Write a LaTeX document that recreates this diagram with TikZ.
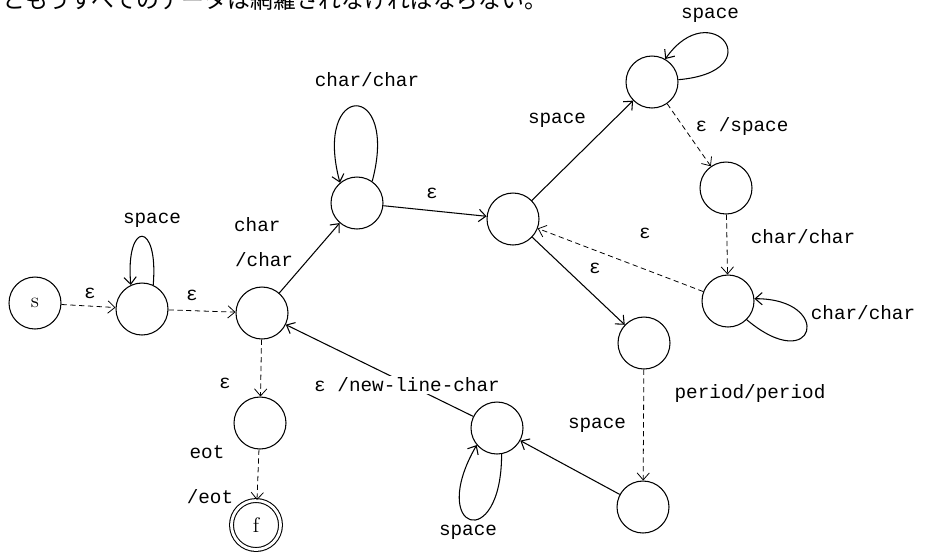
\documentclass[tikz,border=0pt]{standalone}
\usepackage{fontspec}
\setmonofont{Liberation Mono}
\newfontfamily\jpfont{Noto Sans CJK JP}
\usepackage{tikz}
\usetikzlibrary{arrows.meta}
\tikzstyle{state}=[circle,draw,line width=0.6pt,minimum size=1.04cm,inner sep=0pt,font=\large]
\tikzstyle{finalstate}=[state,double,double distance=1.6pt,minimum size=0.98cm]
\tikzstyle{edge} = [draw,line width=0.6pt,-{Straight Barb[length=4pt,width=7pt]}]
\tikzstyle{epsedge} = [edge,line width=0.45pt,densely dashed]
\tikzstyle{edgetext} = [font=\ttfamily\fontsize{11}{13}\selectfont,inner sep=1pt]

\begin{document}
\begin{tikzpicture}[x=0.02cm,y=-0.02cm]

\useasboundingbox (0,0) rectangle (925,556);

% running text above the automaton
\node[anchor=base west,inner sep=0pt,font=\jpfont\fontsize{13}{13}\selectfont] (txt) at (2,8)
   {ともうすべてのデータは網羅されなければならない。};

% states
\node[state] (s) at (35,303) {s};
\foreach \pos/\name in {{(142,309)/n1},{(262,313)/n2},{(357,203)/n3},{(513,219)/hub},
                        {(652,82)/top},{(726,188)/right},{(728,301)/cloop},{(644,343)/period},
                        {(643,507)/bottom},{(497,428)/sloop},{(260,423)/n4}}
    \node[state] (\name) at \pos {};
\node[finalstate] (f) at (256,525) {f};

% Connect states with transitions
\foreach \source/\dest in {n2/n3, n3/hub, hub/top, hub/period, bottom/sloop, sloop/n2}
    \path[edge] (\source) -- (\dest);
\foreach \source/\dest in {s/n1, n1/n2, top/right, right/cloop, cloop/hub, period/bottom, n2/n4, n4/f}
    \path[epsedge] (\source) -- (\dest);

% self loops
\path[edge] (n1.65) .. controls +(85:1.3cm) and +(95:1.3cm) .. (n1.115);
\path[edge] (n3.55) .. controls +(75:2.1cm) and +(105:2.1cm) .. (n3.130);
\path[edge] (top.5) .. controls +(5:1.9cm) and +(55:1.6cm) .. (top.60);
\path[edge] (cloop.-45) .. controls +(-40:1.8cm) and +(0:1.6cm) .. (cloop.5);
\path[edge] (sloop.-80) .. controls +(-90:2cm) and +(240:2cm) .. (sloop.220);

% transition labels
\node[edgetext] (e1) at (90,293) {ε};
\node[edgetext] (e2) at (192,295) {ε};
\node[edgetext] (l1) at (152,220) {space};
\node[edgetext,anchor=west] (l2) at (232,225) {char};
\node[edgetext,anchor=west] (l3) at (233,260) {/char};
\node[edgetext] (l4) at (367,80) {char/char};
\node[edgetext] (e3) at (432,193) {ε};
\node[edgetext] (l5) at (557,120) {space};
\node[edgetext] (l6) at (710,15) {space};
\node[edgetext] (l7) at (742,126) {ε /space};
\node[edgetext] (l8) at (803,237) {char/char};
\node[edgetext] (l9) at (863,313) {char/char};
\node[edgetext] (e4) at (645,233) {ε};
\node[edgetext] (e5) at (595,268) {ε};
\node[edgetext] (l10) at (750,393) {period/period};
\node[edgetext] (l11) at (597,425) {space};
\node[edgetext] (l12) at (468,532) {space};
\node[edgetext,fill=white] (l13) at (407,385) {ε /new-line-char};
\node[edgetext] (e6) at (225,383) {ε};
\node[edgetext] (l14) at (207,452) {eot};
\node[edgetext] (l15) at (210,497) {/eot};

\end{tikzpicture}
\end{document}
